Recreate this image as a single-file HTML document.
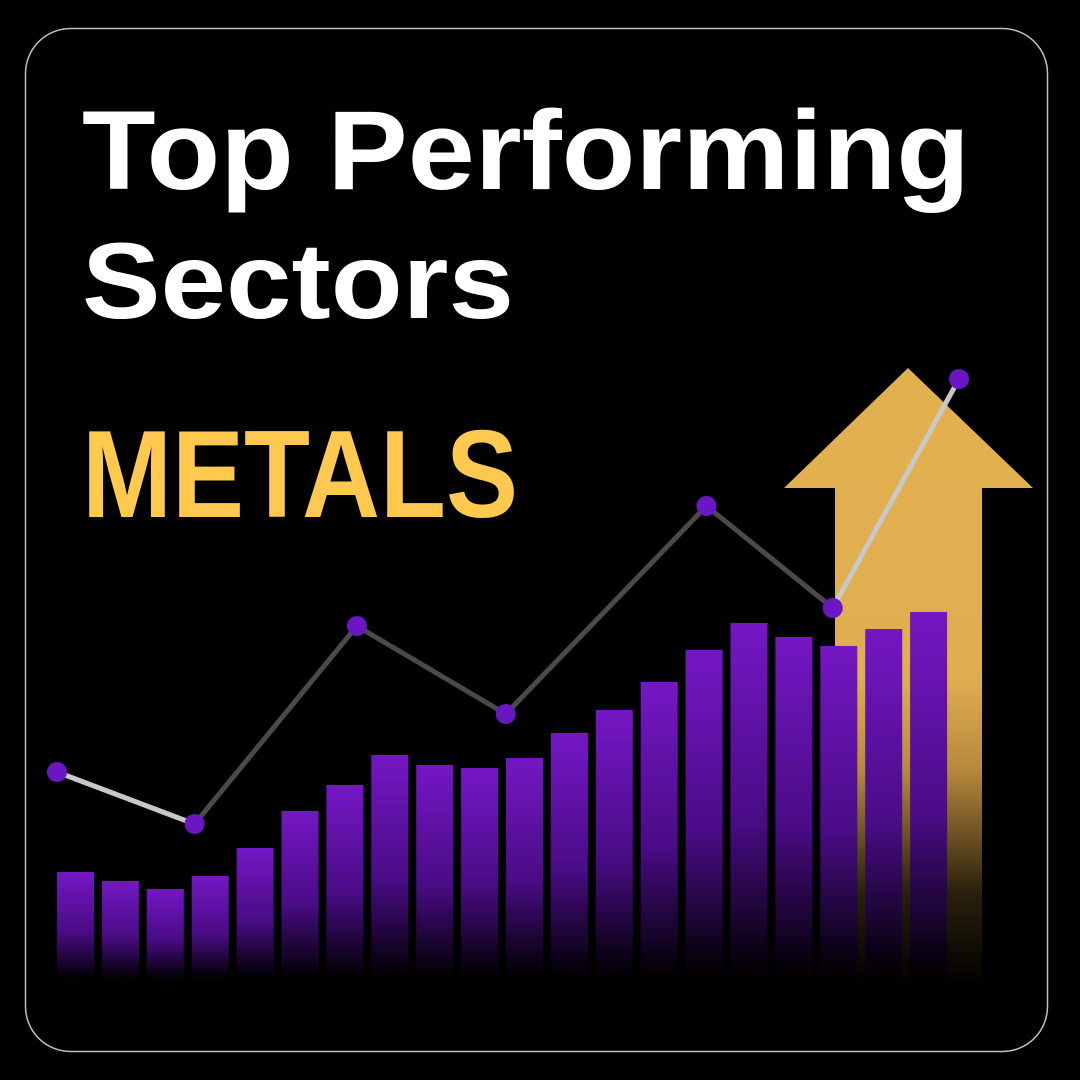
<!DOCTYPE html>
<html><head><meta charset="utf-8"><style>
html,body{margin:0;padding:0;background:#000;}
svg{display:block;}
</style></head><body>
<svg id="chart" width="1080" height="1080" viewBox="0 0 1080 1080" xmlns="http://www.w3.org/2000/svg">
<defs>
<linearGradient id="barGrad" x1="0" y1="0" x2="0" y2="1" gradientUnits="objectBoundingBox">
<stop offset="0" stop-color="#7417c4"/><stop offset="0.55" stop-color="#4a0c86"/><stop offset="0.92" stop-color="#0a0214"/><stop offset="1" stop-color="#000"/>
</linearGradient>
<linearGradient id="arrowGrad" x1="0" y1="368" x2="0" y2="985" gradientUnits="userSpaceOnUse">
<stop offset="0" stop-color="#e3b04f"/><stop offset="0.5" stop-color="#e0ae50"/><stop offset="0.65" stop-color="#b8893d"/><stop offset="0.85" stop-color="#2a200c"/><stop offset="1" stop-color="#000"/>
</linearGradient>
</defs>
<rect x="0" y="0" width="1080" height="1080" fill="#000"/>
<rect x="25.5" y="28.5" width="1022" height="1023" rx="45" fill="#000" stroke="#bfbfbf" stroke-width="1.5"/>
<text x="82" y="189" font-family="Liberation Sans, sans-serif" font-weight="700" font-size="112" fill="#fff" textLength="888" lengthAdjust="spacingAndGlyphs">Top Performing</text>
<text x="82" y="318" font-family="Liberation Sans, sans-serif" font-weight="700" font-size="108" fill="#fff" textLength="432" lengthAdjust="spacingAndGlyphs">Sectors</text>
<text x="82" y="517" font-family="Liberation Sans, sans-serif" font-weight="700" font-size="124" fill="#ffc94f" textLength="436" lengthAdjust="spacingAndGlyphs">METALS</text>
<polygon points="908,368 1033,488 982,488 982,985 835,985 835,488 784,488" fill="url(#arrowGrad)"/>
<g id="bars"></g>
<g id="line"></g>
<g id="points"></g>
</svg>
<script>
const barValues = [108, 99, 91, 104, 132, 169, 195, 225, 215, 212, 222, 247, 270, 298, 330, 357, 343, 334, 351, 368];
const lineX = [0, 3.05, 6.65, 9.95, 14.4, 17.2, 20];
const lineValues = [208, 156, 354, 266, 474, 372, 601];
const segColors = ["#c8c8c8", "#4a4a4a", "#4a4a4a", "#4a4a4a", "#4a4a4a", "#c8c8c8"];

const ns = "http://www.w3.org/2000/svg";
const baseY = 980, x0 = 57, pitch = 44.9, bw = 37;
function yScale(v){ return baseY - v; }
function xBar(i){ return x0 + i * pitch; }
function xLine(t){ return 57 + t * (959 - 57) / 20; }

const gB = document.getElementById('bars');
barValues.forEach((v, i) => {
  const r = document.createElementNS(ns, 'rect');
  r.setAttribute('x', xBar(i));
  r.setAttribute('y', yScale(v));
  r.setAttribute('width', bw);
  r.setAttribute('height', v);
  r.setAttribute('fill', 'url(#barGrad)');
  
  
  gB.appendChild(r);
});
const gL = document.getElementById('line');
for (let i = 0; i < lineValues.length - 1; i++) {
  const l = document.createElementNS(ns, 'line');
  l.setAttribute('x1', xLine(lineX[i])); l.setAttribute('y1', yScale(lineValues[i]));
  l.setAttribute('x2', xLine(lineX[i + 1])); l.setAttribute('y2', yScale(lineValues[i + 1]));
  l.setAttribute('stroke', segColors[i]);
  l.setAttribute('stroke-width', '5');
  
  
  gL.appendChild(l);
}
const gP = document.getElementById('points');
lineValues.forEach((v, i) => {
  const c = document.createElementNS(ns, 'circle');
  c.setAttribute('cx', xLine(lineX[i])); c.setAttribute('cy', yScale(v));
  c.setAttribute('r', '10');
  c.setAttribute('fill', '#6a16c2');
  
  
  gP.appendChild(c);
});
</script>
</body></html>
